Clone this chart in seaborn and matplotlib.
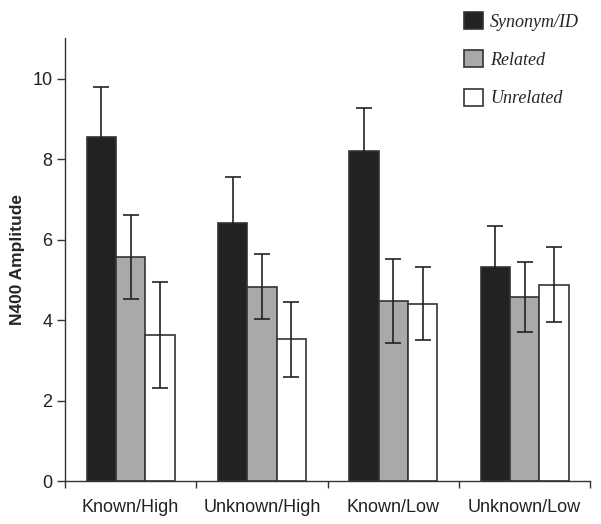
import pandas as pd
import matplotlib.pyplot as plt
import seaborn as sns

# Values
groups = ['Known/High', 'Unknown/High', 'Known/Low', 'Unknown/Low']
conditions = ['Synonym/ID', 'Related', 'Unrelated']
synonym = [8.55, 6.42, 8.21, 5.32]
related = [5.57, 4.83, 4.47, 4.57]
unrelated = [3.62, 3.52, 4.41, 4.88]
synonym_err = [1.23, 1.13, 1.06, 1.02]
related_err = [1.05, 0.80, 1.05, 0.86]
unrelated_err = [1.32, 0.93, 0.91, 0.93]

colors = ['#222222', '#a9a9a9', '#ffffff']

rows = []
for cond, vals, errs in zip(conditions, [synonym, related, unrelated],
                            [synonym_err, related_err, unrelated_err]):
    for g, v, e in zip(groups, vals, errs):
        rows.append({'group': g, 'condition': cond, 'amp': v, 'err': e})
df = pd.DataFrame(rows)

sns.set_style('ticks')
fig = plt.figure(figsize=(6.01, 5.24), dpi=100)
ax = fig.add_axes([0.108, 0.082, 0.874, 0.845])

sns.barplot(data=df, x='group', y='amp', hue='condition', order=groups,
            hue_order=conditions, palette=colors, width=0.67, gap=0,
            edgecolor='#333333', linewidth=1.2, errorbar=None, ax=ax, legend=False)

# error bars placed on the drawn bars
for cond, container in zip(conditions, ax.containers):
    sub = df[df['condition'] == cond].set_index('group').loc[groups]
    xs = [p.get_x() + p.get_width() / 2 for p in container.patches]
    ys = [p.get_height() for p in container.patches]
    ax.errorbar(xs, ys, yerr=sub['err'].values, fmt='none', ecolor='#222222',
                elinewidth=1.2, capsize=5.5, capthick=1.2, zorder=5)

ax.set_ylim(0, 11)
ax.set_xlim(-0.5, 3.5)
ax.set_yticks([0, 2, 4, 6, 8, 10])
ax.set_xticks([-0.5, 0.5, 1.5, 2.5, 3.5], minor=False)
ax.set_xticklabels([])
ax.set_xticks([0, 1, 2, 3], minor=True)
ax.set_xticklabels(groups, minor=True)
ax.tick_params(axis='x', which='minor', length=0, pad=13, labelsize=13)
ax.tick_params(axis='x', which='major', length=5, width=1, color='#333333')
ax.tick_params(axis='y', length=6, width=1, color='#333333', labelsize=13, pad=3)
ax.set_xlabel('')
ax.set_ylabel('N400 Amplitude', fontsize=12.5, fontweight='bold', labelpad=5)
for lbl in ax.get_xticklabels(minor=True) + ax.get_yticklabels():
    lbl.set_fontfamily('Liberation Sans')
    lbl.set_color('#222222')
ax.yaxis.label.set_fontfamily('Liberation Sans')
sns.despine(ax=ax)
for s in ['left', 'bottom']:
    ax.spines[s].set_color('#333333')
    ax.spines[s].set_linewidth(1)

handles = [plt.Rectangle((0, 0), 1, 1, facecolor=c, edgecolor='#333333', linewidth=1.2)
           for c in colors]
fig.legend(handles, conditions, loc='upper left', bbox_to_anchor=(0.745, 1.008),
           frameon=False, handlelength=1.05, handleheight=1.05, handletextpad=0.4,
           labelspacing=1.1, prop={'family': 'Liberation Serif', 'style': 'italic', 'size': 13})

fig.savefig('out.png', dpi=100)
